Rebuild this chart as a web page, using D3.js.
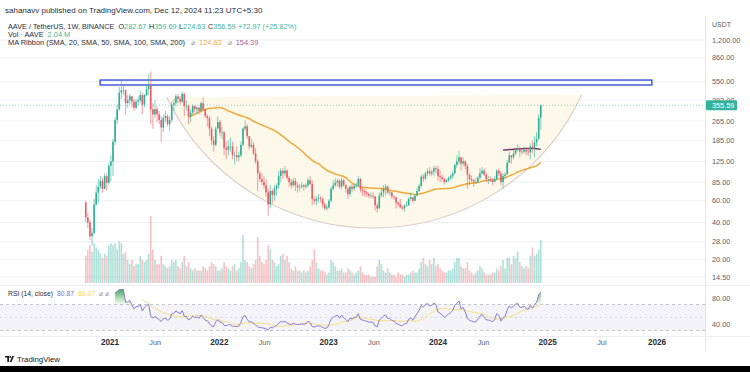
<!DOCTYPE html>
<html>
<head>
<meta charset="utf-8">
<script src="https://cdn.jsdelivr.net/npm/d3@7"></script>
<style>
  body { margin: 0; background: #fff; }
  svg { display: block; font-family: "Liberation Sans", Arial, sans-serif; }
</style>
</head>
<body>
<div id="chart"></div>
<script>
// weekly AAVE/USDT candles, first week starts 2020-10-12
const firstWeek = "2020-10-12";
const firstOpen = 58;
const closes = [
  44, 40, 31, 33, 56, 70, 78, 87, 75, 95, 84, 115,
  125, 180, 270, 330, 450, 470, 470, 370, 390, 420, 380, 340, 380,
  390, 430, 360, 430, 480, 510, 330, 300, 330, 300, 270, 235, 280,
  290, 250, 270, 360, 370, 420, 400, 380, 440, 350, 350, 290, 310,
  350, 330, 340, 320, 370, 330, 290, 280, 230, 185, 170, 230, 260,
  215, 215, 160, 155, 165, 165, 140, 140, 135, 140, 170, 230, 240,
  200, 165, 170, 145, 125, 100, 90, 85, 80, 70, 56, 72, 67,
  75, 80, 95, 105, 100, 105, 92, 85, 80, 87, 80, 77, 78,
  80, 78, 80, 88, 82, 62, 60, 62, 63, 62, 56, 52, 53,
  60, 75, 80, 84, 87, 78, 88, 80, 75, 68, 78, 75, 79,
  80, 90, 74, 72, 70, 68, 66, 66, 65, 55, 52, 66, 70,
  75, 78, 70, 70, 65, 64, 58, 56, 53, 52, 55, 55, 62,
  64, 60, 66, 72, 79, 94, 91, 100, 104, 100, 103, 110, 108,
  95, 93, 90, 85, 88, 92, 95, 100, 117, 125, 135, 120, 125,
  115, 98, 90, 88, 85, 85, 92, 100, 105, 98, 90, 90, 88,
  85, 90, 105, 100, 85, 95, 98, 122, 140, 135, 145, 155, 160,
  150, 150, 155, 150, 148, 165, 158, 178, 190, 282.67, 356.59
];
const highs = [
  60, 48, 42, 36, 62, 80, 90, 95, 92, 100, 100, 120,
  140, 190, 285, 360, 500, 576, 530, 480, 430, 440, 425, 400, 400,
  420, 470, 450, 440, 520, 640, 666, 370, 390, 350, 320, 290, 300,
  320, 300, 290, 380, 400, 440, 440, 420, 460, 450, 390, 360, 330,
  360, 355, 350, 345, 380, 410, 335, 300, 290, 240, 200, 240, 290,
  270, 240, 220, 180, 185, 195, 180, 150, 165, 150, 180, 235, 270,
  250, 200, 190, 180, 160, 130, 105, 100, 95, 90, 75, 80, 75,
  80, 83, 105, 110, 110, 115, 108, 95, 90, 92, 92, 85, 82,
  85, 82, 83, 92, 95, 88, 65, 66, 68, 66, 64, 58, 56,
  62, 78, 88, 92, 90, 90, 92, 90, 82, 78, 80, 82, 82,
  84, 95, 92, 78, 75, 72, 70, 70, 70, 66, 58, 70, 76,
  80, 82, 80, 72, 71, 66, 65, 59, 62, 55, 56, 60, 64,
  70, 65, 68, 77, 82, 98, 99, 103, 110, 112, 107, 115, 115,
  115, 105, 97, 92, 90, 94, 98, 105, 120, 140, 152, 135, 135,
  128, 120, 100, 96, 90, 92, 95, 110, 112, 110, 100, 95, 95,
  92, 95, 108, 110, 105, 100, 102, 128, 150, 140, 155, 160, 172,
  165, 158, 162, 160, 160, 175, 185, 200, 215, 300, 359.69
];
const lows = [
  40, 36, 29, 26, 32, 55, 58, 75, 70, 74, 72, 80,
  86, 95, 170, 250, 320, 400, 430, 300, 340, 360, 340, 320, 330,
  355, 370, 300, 340, 420, 430, 250, 230, 280, 260, 250, 180, 215,
  260, 240, 220, 260, 320, 350, 370, 360, 370, 290, 320, 250, 260,
  300, 310, 300, 300, 310, 320, 280, 240, 200, 170, 150, 165, 240,
  200, 190, 140, 130, 140, 150, 130, 118, 125, 125, 135, 165, 220,
  190, 155, 160, 140, 120, 72, 85, 80, 75, 65, 45, 52, 57,
  60, 66, 75, 85, 90, 95, 88, 78, 75, 78, 72, 70, 72,
  75, 72, 75, 77, 80, 55, 56, 55, 58, 58, 53, 50, 50,
  52, 58, 72, 78, 78, 75, 74, 78, 70, 62, 65, 70, 72,
  76, 78, 70, 66, 65, 64, 63, 63, 62, 50, 48, 53, 64,
  64, 66, 68, 66, 62, 61, 52, 54, 52, 50, 49, 54, 55,
  60, 58, 60, 65, 71, 77, 85, 88, 95, 96, 95, 96, 100,
  88, 85, 87, 81, 84, 85, 88, 90, 98, 110, 118, 105, 115,
  108, 75, 80, 85, 78, 82, 83, 90, 98, 95, 85, 82, 85,
  80, 85, 88, 95, 80, 75, 90, 98, 120, 120, 130, 140, 150,
  135, 142, 145, 140, 138, 130, 145, 135, 165, 185, 224.63
];
// weekly volume, millions of AAVE
const volumes = [
  1.3, 1.6, 1.8, 1.5, 1.9, 1.7, 1.6, 1.4, 1.2, 1.4, 1.3, 1.8,
  1.9, 1.8, 1.9, 1.6, 2.0, 1.9, 1.4, 1.5, 1.1, 0.9, 1.1, 0.8, 0.9,
  0.9, 1.3, 1.1, 1.0, 1.1, 1.4, 3.2, 1.6, 1.1, 0.9, 0.9, 1.3, 0.9,
  0.8, 0.7, 0.8, 1.1, 1.0, 1.1, 0.8, 0.7, 1.0, 1.3, 0.8, 1.0, 0.7,
  0.6, 0.7, 0.6, 0.6, 0.6, 0.8, 0.7, 0.6, 0.8, 1.0, 0.9, 0.8, 0.6,
  0.6, 0.7, 1.0, 0.8, 0.7, 0.6, 0.8, 0.9, 0.6, 0.7, 1.0, 2.3, 1.1,
  1.0, 0.8, 0.7, 0.9, 1.1, 2.2, 1.3, 1.0, 0.9, 1.1, 1.8, 1.6, 1.1,
  1.0, 0.8, 0.9, 1.3, 1.4, 1.1, 1.3, 1.0, 0.7, 0.6, 0.8, 0.6, 0.6,
  0.5, 0.6, 0.5, 0.6, 0.8, 1.1, 1.6, 1.0, 0.7, 0.6, 0.6, 0.5, 0.4,
  0.5, 1.1, 1.0, 0.8, 0.6, 0.6, 0.7, 0.5, 0.5, 0.7, 0.6, 0.5, 0.4,
  0.5, 0.6, 0.8, 0.5, 0.4, 0.4, 0.4, 0.3, 0.3, 0.3, 0.8, 1.1, 0.9,
  0.6, 0.5, 0.7, 0.5, 0.4, 0.4, 0.3, 0.5, 0.4, 0.4, 0.3, 0.4, 0.4,
  0.5, 0.6, 0.5, 0.5, 0.7, 1.0, 1.2, 0.9, 0.8, 1.1, 0.9, 1.2, 0.8,
  0.9, 0.7, 0.6, 0.5, 0.5, 0.6, 0.6, 0.7, 1.0, 1.2, 1.2, 0.8, 0.7,
  0.7, 1.0, 0.6, 0.5, 0.4, 0.5, 0.6, 0.8, 0.7, 0.5, 0.4, 0.4, 0.4,
  0.5, 0.5, 0.7, 0.6, 0.8, 1.1, 0.7, 1.2, 1.2, 0.9, 1.3, 1.2, 1.5,
  1.0, 0.8, 0.7, 0.8, 0.7, 1.3, 1.7, 1.3, 1.4, 1.6, 2.04
];

const priceTicks = [1200, 860, 550, 392, 265, 185, 125, 85, 60, 40, 28, 20, 14.5];
const rsiTicks = [80, 40];
const rsiLevels = [70, 50, 30];
const timeTicks = [
  ["2021-01-01", "2021"], ["2021-06-01", "Jun"], ["2022-01-01", "2022"], ["2022-06-01", "Jun"],
  ["2023-01-01", "2023"], ["2023-06-01", "Jun"], ["2024-01-01", "2024"], ["2024-06-01", "Jun"],
  ["2025-01-01", "2025"], ["2025-07-01", "Jul"], ["2026-01-01", "2026"]
];
// drawings on the chart
const resistanceZone = { from: "2020-11-29", to: "2025-12-15", low: 519, high: 569 };
const cupPoints = [["2021-07-09", 415], ["2023-06-03", 36.1], ["2025-04-24", 431]];
const lastPriceLabel = 355.59;

const parse = d3.timeParse("%Y-%m-%d");
const start = parse(firstWeek);
const candles = closes.map((c, i) => ({
  date: d3.timeDay.offset(start, 7 * i),
  open: i === 0 ? firstOpen : closes[i - 1],
  high: highs[i], low: lows[i], close: c, vol: volumes[i]
}));

const upCol = "#2eae98", downCol = "#ec5b64";
const W = 750, H = 372, plotR = 705;

const svg = d3.select("#chart").append("svg").attr("width", W).attr("height", H);

const x = d3.scaleTime().domain([parse("2021-01-01"), parse("2026-01-01")]).range([110, 657]);
const y = d3.scaleLog().domain([1200, 14.5]).range([40, 277]);
const yVol = d3.scaleLinear().domain([0, 3.2]).range([283, 216]);
const yRsi = d3.scaleLinear().domain([80, 40]).range([298, 324]);

svg.append("defs").append("clipPath").attr("id", "mainclip")
  .append("rect").attr("x", 0).attr("y", 16).attr("width", plotR).attr("height", 269);
svg.select("defs").append("clipPath").attr("id", "rsiclip")
  .append("rect").attr("x", 0).attr("y", 286).attr("width", plotR).attr("height", 50);

// grid
svg.append("g").selectAll("line").data(priceTicks).join("line")
  .attr("x1", 0).attr("x2", plotR).attr("y1", d => y(d)).attr("y2", d => y(d))
  .attr("stroke", "#eef0f5").attr("stroke-width", 1);

const main = svg.append("g").attr("clip-path", "url(#mainclip)");

// cup drawing
function circleThrough(a, b, c) {
  const d = 2 * (a[0] * (b[1] - c[1]) + b[0] * (c[1] - a[1]) + c[0] * (a[1] - b[1]));
  const s = p => p[0] * p[0] + p[1] * p[1];
  const ux = (s(a) * (b[1] - c[1]) + s(b) * (c[1] - a[1]) + s(c) * (a[1] - b[1])) / d;
  const uy = (s(a) * (c[0] - b[0]) + s(b) * (a[0] - c[0]) + s(c) * (b[0] - a[0])) / d;
  return [ux, uy, Math.hypot(a[0] - ux, a[1] - uy)];
}
const cp = cupPoints.map(([d, p]) => [x(parse(d)), y(p)]);
const [cx, cy, cr] = circleThrough(cp[0], cp[1], cp[2]);
const arcD = `M${cp[0][0]},${cp[0][1]} A${cr},${cr} 0 0 0 ${cp[2][0]},${cp[2][1]}`;
main.append("path").attr("d", arcD + " Z").attr("fill", "#fdf9ea");

// volume
main.append("g").selectAll("rect").data(candles).join("rect")
  .attr("x", d => x(d.date) - 0.8).attr("width", 1.6)
  .attr("y", d => yVol(d.vol)).attr("height", d => yVol(0) - yVol(d.vol))
  .attr("fill", d => d.close >= d.open ? upCol : downCol).attr("opacity", 0.38);

main.append("path").attr("d", arcD).attr("fill", "none")
  .attr("stroke", "#dccbc8").attr("stroke-width", 1.1);

// resistance zone
main.append("rect")
  .attr("x", x(parse(resistanceZone.from))).attr("y", y(resistanceZone.high))
  .attr("width", x(parse(resistanceZone.to)) - x(parse(resistanceZone.from)))
  .attr("height", y(resistanceZone.low) - y(resistanceZone.high))
  .attr("fill", "none").attr("stroke", "#3452d6").attr("stroke-width", 1.4);

// moving averages
const sma = (arr, n) => arr.map((_, i) => {
  if (i < n - 1) return null;
  const w = arr.slice(i - n + 1, i + 1);
  if (w.some(v => v == null)) return null;
  return d3.mean(w);
});
const ma50 = sma(closes, 50), ma200 = sma(closes, 200);
const maLine = vals => d3.line().defined((d, i) => vals[i] != null)
  .x(d => x(d.date)).y((d, i) => y(vals[i] || 1));
main.append("path").datum(candles).attr("d", maLine(ma50))
  .attr("fill", "none").attr("stroke", "#f0a838").attr("stroke-width", 1.5);
main.append("path").datum(candles).attr("d", maLine(ma200))
  .attr("fill", "none").attr("stroke", "#74386f").attr("stroke-width", 1.5);

// last price line
main.append("line").attr("x1", 0).attr("x2", plotR)
  .attr("y1", y(lastPriceLabel)).attr("y2", y(lastPriceLabel))
  .attr("stroke", upCol).attr("stroke-opacity", 0.5).attr("stroke-dasharray", "1,2");

// candles
const cg = main.append("g").selectAll("g").data(candles).join("g")
  .attr("stroke", d => d.close >= d.open ? upCol : downCol)
  .attr("fill", d => d.close >= d.open ? upCol : downCol);
cg.append("line")
  .attr("x1", d => x(d.date)).attr("x2", d => x(d.date))
  .attr("y1", d => y(Math.max(d.high, d.open, d.close)))
  .attr("y2", d => y(Math.min(d.low, d.open, d.close)))
  .attr("stroke-width", 0.6);
cg.append("rect")
  .attr("x", d => x(d.date) - 0.8).attr("width", 1.6)
  .attr("y", d => y(Math.max(d.open, d.close)))
  .attr("height", d => Math.max(0.6, Math.abs(y(d.open) - y(d.close))))
  .attr("stroke", "none");

// RSI pane
function rsiCalc(vals, n) {
  const out = vals.map(() => null);
  let g = 0, l = 0;
  for (let i = 1; i <= n; i++) { const d = vals[i] - vals[i - 1]; if (d > 0) g += d; else l -= d; }
  g /= n; l /= n;
  out[n] = 100 - 100 / (1 + g / l);
  for (let i = n + 1; i < vals.length; i++) {
    const d = vals[i] - vals[i - 1];
    g = (g * (n - 1) + Math.max(d, 0)) / n;
    l = (l * (n - 1) + Math.max(-d, 0)) / n;
    out[i] = l === 0 ? 100 : 100 - 100 / (1 + g / l);
  }
  return out;
}
const rsi = rsiCalc(closes, 14);
const rsiMa = sma(rsi, 14);

const rp = svg.append("g").attr("clip-path", "url(#rsiclip)");
rp.append("rect").attr("x", 0).attr("width", plotR)
  .attr("y", yRsi(70)).attr("height", yRsi(30) - yRsi(70)).attr("fill", "#f4f3f8");
rp.selectAll("line.lvl").data(rsiLevels).join("line").attr("class", "lvl")
  .attr("x1", 0).attr("x2", plotR).attr("y1", d => yRsi(d)).attr("y2", d => yRsi(d))
  .attr("stroke", "#b4b6be").attr("stroke-width", 0.8)
  .attr("stroke-dasharray", d => d === 50 ? "2,3" : "3,3")
  .attr("stroke-opacity", d => d === 50 ? 0.5 : 1);

const grad = svg.select("defs").append("linearGradient").attr("id", "obgrad")
  .attr("x1", 0).attr("x2", 0).attr("y1", 0).attr("y2", 1);
grad.append("stop").attr("offset", "0%").attr("stop-color", "#2e9d4f").attr("stop-opacity", 0.9);
grad.append("stop").attr("offset", "100%").attr("stop-color", "#4caf50").attr("stop-opacity", 0.05);
rp.append("path").datum(candles)
  .attr("d", d3.area().defined((d, i) => rsi[i] != null)
    .x(d => x(d.date)).y0(yRsi(70)).y1((d, i) => yRsi(Math.max(70, rsi[i] || 70))))
  .attr("fill", "url(#obgrad)");
rp.append("path").datum(candles)
  .attr("d", d3.line().defined((d, i) => rsiMa[i] != null).x(d => x(d.date)).y((d, i) => yRsi(rsiMa[i] || 50)))
  .attr("fill", "none").attr("stroke", "#f6dd86").attr("stroke-width", 1);
rp.append("path").datum(candles)
  .attr("d", d3.line().defined((d, i) => rsi[i] != null).x(d => x(d.date)).y((d, i) => yRsi(rsi[i] || 50)))
  .attr("fill", "none").attr("stroke", "#8a7bd0").attr("stroke-width", 1);

// separators
svg.append("line").attr("x1", plotR + 0.5).attr("x2", plotR + 0.5).attr("y1", 16).attr("y2", 352)
  .attr("stroke", "#e3e5ec");
svg.append("line").attr("x1", 0).attr("x2", W).attr("y1", 285.5).attr("y2", 285.5).attr("stroke", "#eceef3");
svg.append("line").attr("x1", 0).attr("x2", W).attr("y1", 336.5).attr("y2", 336.5).attr("stroke", "#eceef3");

// right axis labels
const axisText = "#5d606b";
const fmt = d3.format(",.2f");
svg.append("text").attr("x", 712).attr("y", 26.5).attr("font-size", 7).attr("fill", axisText).text("USDT");
svg.append("g").selectAll("text").data(priceTicks).join("text")
  .attr("x", 712).attr("y", d => y(d) + 2.6).attr("font-size", 7.3).attr("fill", axisText)
  .text(d => fmt(d));
svg.append("g").selectAll("text").data(rsiTicks).join("text")
  .attr("x", 712).attr("y", d => yRsi(d) + 2.6).attr("font-size", 7.3).attr("fill", axisText)
  .text(d => fmt(d));

// last price badge
const by = y(lastPriceLabel);
svg.append("rect").attr("x", 706).attr("y", by - 5).attr("width", 31).attr("height", 10)
  .attr("rx", 1).attr("fill", "#36b29b");
svg.append("text").attr("x", 712).attr("y", by + 2.6).attr("font-size", 7.3).attr("fill", "#fff")
  .text(fmt(lastPriceLabel));

// time axis
const isYear = s => /\d/.test(s);
svg.append("g").selectAll("text").data(timeTicks).join("text")
  .attr("x", d => x(parse(d[0]))).attr("y", 345).attr("text-anchor", "middle")
  .attr("font-size", d => isYear(d[1]) ? 8.2 : 7.3)
  .attr("fill", d => isYear(d[1]) ? "#2a2e39" : axisText)
  .attr("font-weight", d => isYear(d[1]) ? "bold" : "normal")
  .text(d => d[1]);

// legends
const dark = "#2a2e39", teal = "#3fb39e";
svg.append("text").attr("x", 5).attr("y", 12.5).attr("font-size", 8).attr("fill", dark)
  .text("sahanavv published on TradingView.com, Dec 12, 2024 11:23 UTC+5:30");

function legend(yy, parts, size) {
  const t = svg.append("text").attr("x", 8).attr("y", yy).attr("font-size", size).attr("fill", dark);
  parts.forEach(([s, c, gap]) => t.append("tspan").attr("fill", c || dark).attr("dx", gap || 0).text(s));
}
legend(28.5, [["AAVE / TetherUS, 1W, BINANCE"], ["O", dark, 4], ["282.67", teal], ["H", dark, 2.5], ["359.69", teal],
  ["L", dark, 2.5], ["224.63", teal], ["C", dark, 2.5], ["356.59", teal], ["+72.97 (+25.82%)", teal, 2.5]], 7.3);
legend(36.5, [["Vol · AAVE"], ["2.04 M", teal, 4]], 7.4);
legend(44.5, [["MA Ribbon (SMA, 20, SMA, 50, SMA, 100, SMA, 200)"], ["⌀", "#9598a1", 6], ["124.63", "#f0b040", 4],
  ["⌀", "#9598a1", 6], ["154.39", "#a05a9c", 4]], 7.4);
legend(296, [["RSI (14, close)"], ["80.87", "#7e6fc8", 4], ["60.07", "#f2cf55", 4], ["⌀  ⌀", "#9598a1", 4]], 6.8);

// footer
const logo = svg.append("g").attr("fill", "#131722").attr("transform", "translate(5,356)");
logo.append("path").attr("d", "M0,0 H4 V6 H2.3 V1.6 H0 Z");
logo.append("circle").attr("cx", 5.2).attr("cy", 0.9).attr("r", 0.9);
logo.append("path").attr("d", "M7.2,0 H9 L6.5,6 H4.7 Z");
svg.append("text").attr("x", 17).attr("y", 362).attr("font-size", 7.8).attr("fill", "#131722")
  .text("TradingView");
svg.append("rect").attr("x", 0).attr("y", 366).attr("width", W).attr("height", 6).attr("fill", "#000");
</script>
</body>
</html>
